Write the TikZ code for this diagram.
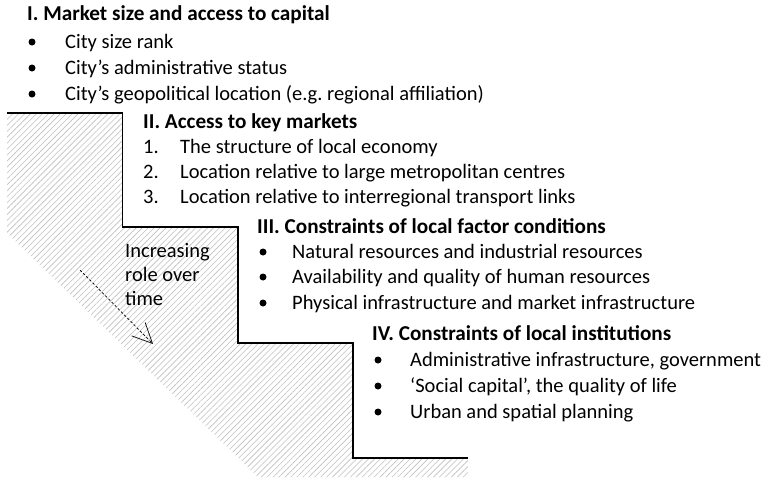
\documentclass[tikz,border=0pt]{standalone}
\usepackage{fontspec}
\setmainfont{Carlito}
\frenchspacing
\usetikzlibrary{patterns.meta,arrows.meta}
\begin{document}
\begin{tikzpicture}[x=1pt,y=-1pt,
  txt/.style={anchor=base west, inner sep=0pt, font=\fontsize{20.5}{24}\selectfont},
  hd/.style={anchor=base west, inner sep=0pt, font=\fontsize{21.2}{25}\selectfont\bfseries},
  bul/.style={circle, fill=black, inner sep=0pt, minimum size=7pt},
  stair/.style={line width=1.4pt, line join=miter},
  hatch/.style={pattern={Lines[angle=45,distance=4.2pt,line width=0.6pt]}, pattern color=black!25},
  arr/.style={line width=0.7pt, dash pattern=on 2.5pt off 2pt, -{Straight Barb[length=20pt,width=19pt,line width=0.7pt]}}
]
\useasboundingbox (0,0) rectangle (779,477);
% hatched area
\fill[hatch] (7,113) -- (122.5,113) -- (122.5,227) -- (238,227) -- (238,343) -- (353,343)
  -- (353,458) -- (468,458) -- (468,477) -- (258,477) -- (7,233) -- cycle;
% staircase outline
\draw[stair] (7,113) -- (122.5,113) -- (122.5,227) -- (238,227) -- (238,343) -- (353,343) -- (353,458) -- (468,458);

% I
\node[hd] (h1) at (27,20) {I. Market size and access to capital};
\foreach \y/\t [count=\i] in {48/City size rank, 74/City’s administrative status, 100/City’s geopolitical location (e.g. regional affiliation)} {
  \node[bul] (b1\i) at (32,\y-6) {};
  \node[txt] (t1\i) at (65,\y) {\t};
}
% II
\node[hd] (h2) at (143,128) {II. Access to key markets};
\foreach \y/\t [count=\i] in {153/The structure of local economy, 178/Location relative to large metropolitan centres, 203/Location relative to interregional transport links} {
  \node[txt] (n2\i) at (143,\y) {\i.};
  \node[txt] (t2\i) at (180,\y) {\t};
}
% III
\node[hd] (h3) at (257,233) {III. Constraints of local factor conditions};
\foreach \y/\t [count=\i] in {258/Natural resources and industrial resources, 283/Availability and quality of human resources, 309/Physical infrastructure and market infrastructure} {
  \node[bul] (b3\i) at (263,\y-6) {};
  \node[txt] (t3\i) at (292,\y) {\t};
}
% IV
\node[hd] (h4) at (372,340) {IV. Constraints of local institutions};
\foreach \y/\t [count=\i] in {366/Administrative infrastructure{,} government, 392/‘Social capital’{,} the quality of life, 418/Urban and spatial planning} {
  \node[bul] (b4\i) at (378,\y-6) {};
  \node[txt] (t4\i) at (410,\y) {\t};
}
% side label and arrow
\node[txt, align=left] (lab) at (125,305) {Increasing\\role over\\time};
\coordinate (arrS) at (80,270);
\coordinate (arrE) at (153,344);
\draw[arr] (arrS) -- (arrE);
\end{tikzpicture}
\end{document}
